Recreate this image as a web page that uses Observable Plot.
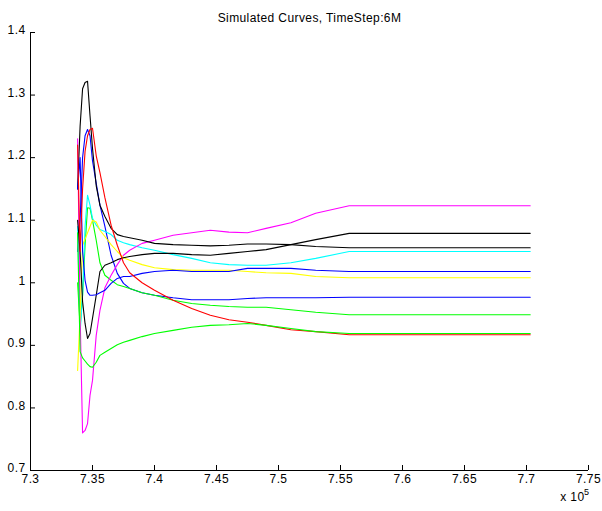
<!DOCTYPE html>
<html><head><meta charset="utf-8">
<script src="https://cdn.jsdelivr.net/npm/d3@7"></script>
<script src="https://cdn.jsdelivr.net/npm/@observablehq/plot@0.6"></script>
<style>
body{margin:0;background:#fff}
svg{display:block}
svg text{letter-spacing:0.4px}
</style>
</head><body><div id="chart"></div>
<script>
const title = "Simulated Curves, TimeStep:6M";
const exponentLabel = "x 10";
const exponentPower = "5";

// shared x grid (units of 1e5)
const xGrid = [7.338, 7.340, 7.342, 7.344, 7.346, 7.348, 7.350, 7.353, 7.356, 7.360, 7.365, 7.370, 7.375, 7.380, 7.390, 7.400, 7.415, 7.430, 7.445, 7.460, 7.475, 7.490, 7.510, 7.530, 7.557, 7.703];

const blueLow   = [1.05, 1.10, 1.20, 1.235, 1.245, 1.235, 1.195, 1.159, 1.124, 1.090, 1.044, 1.015, 0.999, 0.991, 0.984, 0.980, 0.976, 0.973, 0.973, 0.973, 0.975, 0.976, 0.976, 0.976, 0.977, 0.977];
const greenHigh = [1.00, 0.93, 0.98, 1.06, 1.12, 1.119, 1.100, 1.068, 1.032, 1.012, 1.004, 0.997, 0.994, 0.991, 0.984, 0.980, 0.972, 0.967, 0.964, 0.962, 0.961, 0.961, 0.957, 0.953, 0.949, 0.949];
const cyan      = [1.09, 0.92, 0.98, 1.09, 1.14, 1.124, 1.103, 1.092, 1.085, 1.082, 1.077, 1.068, 1.064, 1.061, 1.056, 1.052, 1.045, 1.039, 1.032, 1.029, 1.028, 1.028, 1.032, 1.039, 1.050, 1.050];
const magenta   = [1.23, 0.95, 0.76, 0.764, 0.775, 0.82, 0.844, 0.916, 0.956, 0.992, 1.012, 1.029, 1.044, 1.052, 1.063, 1.068, 1.076, 1.080, 1.084, 1.081, 1.080, 1.087, 1.096, 1.111, 1.123, 1.123];
const yellow    = [0.86, 0.95, 1.06, 1.07, 1.08, 1.09, 1.100, 1.097, 1.084, 1.074, 1.061, 1.050, 1.040, 1.036, 1.029, 1.024, 1.021, 1.020, 1.020, 1.020, 1.018, 1.016, 1.015, 1.010, 1.008, 1.008];
const blackHigh = [1.15, 1.25, 1.31, 1.32, 1.322, 1.267, 1.215, 1.155, 1.124, 1.106, 1.087, 1.077, 1.074, 1.072, 1.068, 1.063, 1.061, 1.060, 1.059, 1.060, 1.062, 1.062, 1.061, 1.058, 1.056, 1.056];
const blackLow  = [1.10, 1.05, 0.97, 0.935, 0.911, 0.919, 0.943, 0.980, 1.018, 1.028, 1.032, 1.037, 1.040, 1.042, 1.045, 1.047, 1.047, 1.045, 1.044, 1.047, 1.050, 1.053, 1.061, 1.069, 1.079, 1.079];
const blueHigh  = [1.15, 1.20, 1.05, 1.004, 0.985, 0.980, 0.980, 0.981, 0.984, 0.988, 0.999, 1.007, 1.010, 1.010, 1.015, 1.018, 1.020, 1.018, 1.018, 1.018, 1.023, 1.023, 1.023, 1.020, 1.018, 1.018];
const greenLow  = [1.08, 0.89, 0.88, 0.875, 0.870, 0.866, 0.865, 0.873, 0.884, 0.889, 0.895, 0.901, 0.905, 0.908, 0.914, 0.919, 0.924, 0.929, 0.932, 0.933, 0.935, 0.932, 0.927, 0.922, 0.919, 0.919];
const red       = [1.22, 1.05, 1.15, 1.21, 1.235, 1.245, 1.247, 1.203, 1.176, 1.136, 1.092, 1.060, 1.032, 1.016, 1.000, 0.988, 0.972, 0.959, 0.948, 0.941, 0.937, 0.932, 0.925, 0.922, 0.917, 0.917];

const seriesValues = [blueLow, greenHigh, cyan, magenta, yellow, blackHigh, blackLow, blueHigh, red, greenLow];
const seriesColors = ["#0000ff", "#00ff00", "#00ffff", "#ff00ff", "#ffff00", "#000000", "#000000", "#0000ff", "#ff0000", "#00ff00"];

const xTicks = [7.3, 7.35, 7.4, 7.45, 7.5, 7.55, 7.6, 7.65, 7.7, 7.75];
const yTicks = [0.7, 0.8, 0.9, 1, 1.1, 1.2, 1.3, 1.4];

const W = 602, H = 511, mL = 30, mR = 14, mT = 32, mB = 41;
const plotW = W - mL - mR, plotH = H - mT - mB;
const font = "Liberation Sans, Arial, sans-serif";

const lineMarks = seriesValues.map((vals, i) =>
  Plot.line(xGrid.map((x, j) => ({x, y: vals[j]})), {x: "x", y: "y", stroke: seriesColors[i], strokeWidth: 1.1})
);

const chart = Plot.plot({
  width: W, height: H,
  marginLeft: mL, marginRight: mR, marginTop: mT, marginBottom: mB,
  style: {fontFamily: font, fontSize: "12px", background: "#fff", overflow: "visible"},
  x: {domain: [7.3, 7.75], axis: null},
  y: {domain: [0.7, 1.4], axis: null},
  marks: [
    ...lineMarks,
    Plot.ruleX([7.3], {stroke: "#000", strokeWidth: 1}),
    Plot.ruleY([0.7], {stroke: "#000", strokeWidth: 1}),
    Plot.tickY(yTicks, {y: d => d, insetRight: plotW - 5, stroke: "#000"}),
    Plot.tickX(xTicks, {x: d => d, insetTop: plotH - 5, stroke: "#000"}),
    Plot.text(yTicks, {x: 7.3, y: d => d, text: d => String(d), textAnchor: "end", dx: -5, dy: -2, fill: "#000", fontSize: 12}),
    Plot.text(xTicks, {x: d => d, y: 0.7, text: d => String(d), lineAnchor: "top", dy: 4, fill: "#000", fontSize: 12}),
    Plot.text([title], {frameAnchor: "top", dy: -19, text: d => d, fill: "#000", fontSize: 12}),
    Plot.text([exponentLabel], {frameAnchor: "bottom-right", dx: -4, dy: 30, text: d => d, textAnchor: "end", fill: "#000", fontSize: 12}),
    Plot.text([exponentPower], {frameAnchor: "bottom-right", dx: 1, dy: 24, text: d => d, textAnchor: "end", fill: "#000", fontSize: 9})
  ]
});
document.getElementById("chart").appendChild(chart);
</script>
</body></html>
